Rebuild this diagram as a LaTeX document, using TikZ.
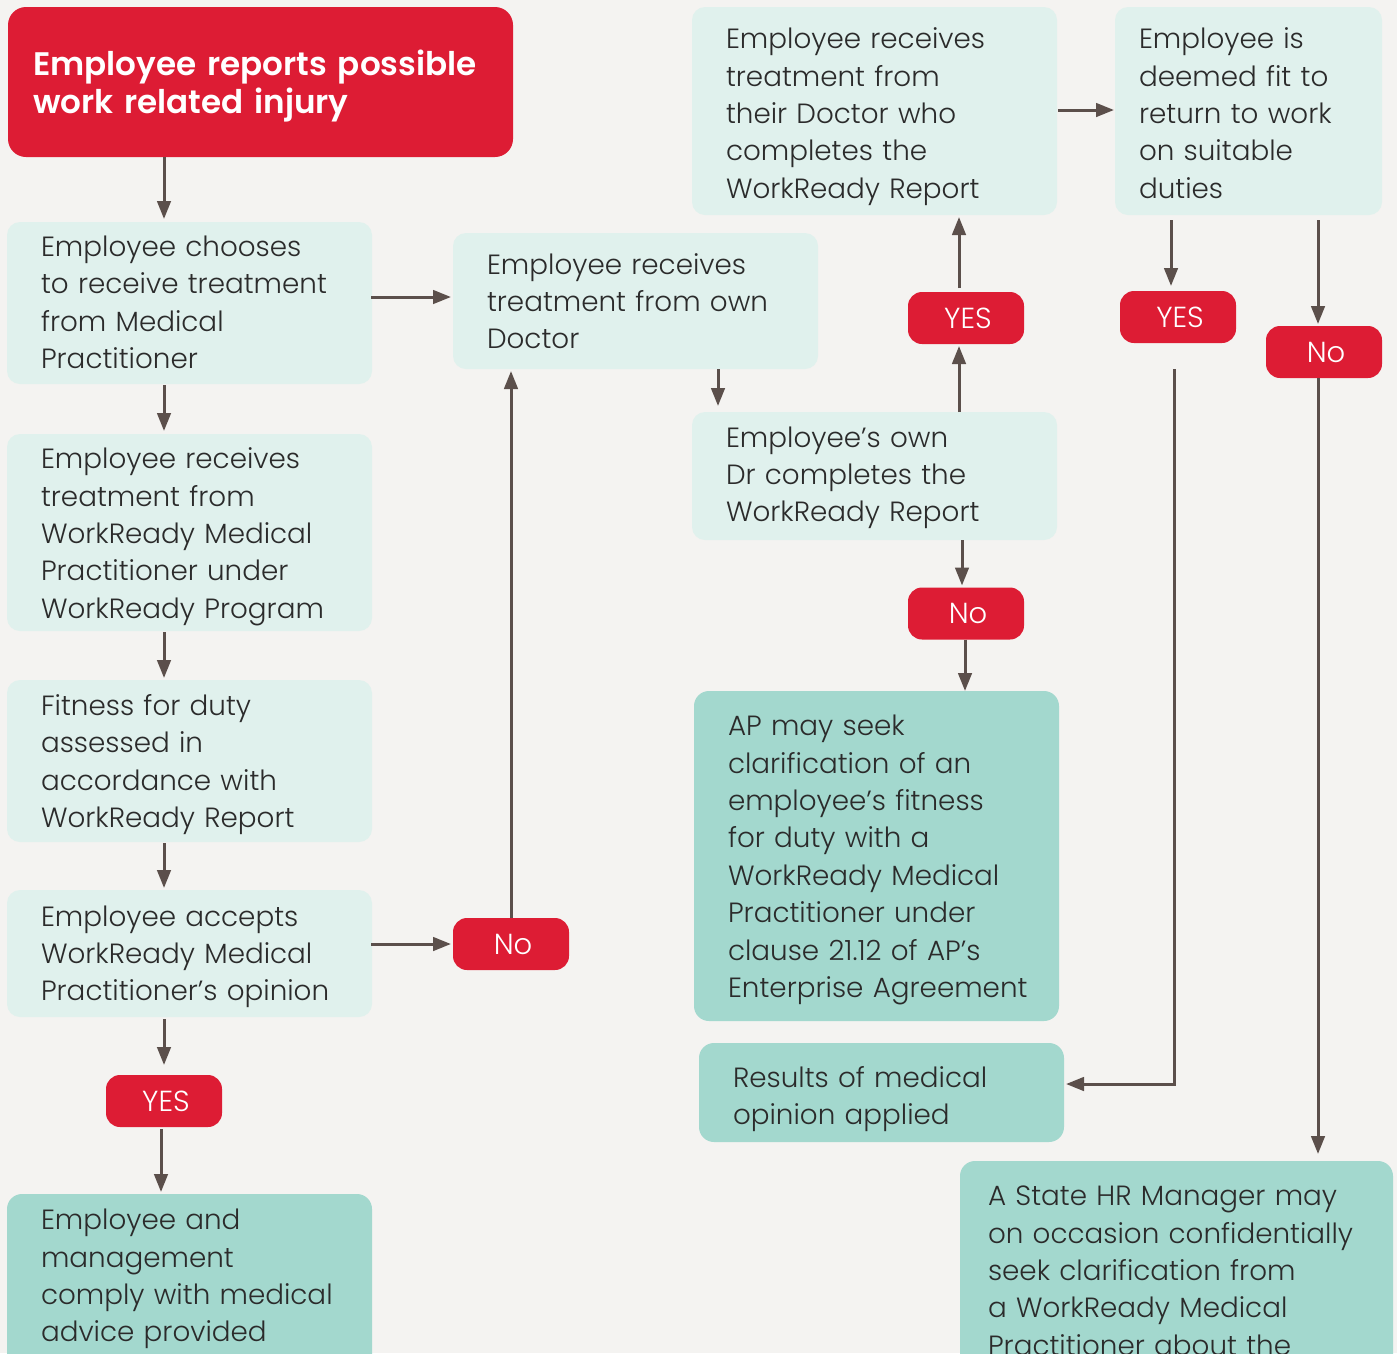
\documentclass[tikz,border=0pt]{standalone}
\usepackage{fontspec}
\setmainfont{Poppins}[UprightFont=* Light,BoldFont=* SemiBold]
\usetikzlibrary{arrows.meta}
\definecolor{bgc}{HTML}{F4F3F1}
\definecolor{redc}{HTML}{DD1C34}
\definecolor{lightc}{HTML}{E0F1ED}
\definecolor{tealc}{HTML}{A3D8CE}
\definecolor{textc}{HTML}{2B2B2B}
\definecolor{arrc}{HTML}{5B4F4B}
\tikzset{
  boxbase/.style={rectangle,outer sep=0pt,inner ysep=0pt,align=left,text=textc,
    font=\fontsize{27.8}{37.4}\selectfont},
  pale/.style={boxbase,fill=lightc,rounded corners=13pt},
  teal/.style={boxbase,fill=tealc,rounded corners=15pt},
  head/.style={boxbase,fill=redc,text=white,rounded corners=18pt,
    font=\fontsize{32.6}{38}\selectfont\bfseries},
  tag/.style={rectangle,outer sep=0pt,fill=redc,text=white,rounded corners=14pt,
    minimum width=116pt,minimum height=52pt,inner sep=0pt,align=center,
    font=\fontsize{29}{32}\selectfont},
  arr/.style={draw=arrc,line width=3pt,-{Triangle[length=18pt,width=13.5pt]}},
}
% name, style, x0, y0, x1, y1, left pad, top strut height, text
\newcommand\bx[9]{%
  \pgfmathsetlengthmacro{\bw}{(#5-#3)*1pt-2*#7*1pt}%
  \pgfmathsetlengthmacro{\bh}{(#6-#4)*1pt}%
  \node[#2,inner xsep=#7pt,text width=\bw,minimum height=\bh] (#1) at ({(#3+#5)/2},{(#4+#6)/2}) {\rule{0pt}{#8pt}#9\strut};}
\begin{document}
\begin{tikzpicture}[x=1pt,y=-1pt]
\clip (0,0) rectangle (1397,1353);
\fill[bgc] (0,0) rectangle (1397,1353);
\bx{r0}{head}{8}{7}{513}{157}{25}{36.6}{Employee reports possible\\work related injury}
\bx{a1}{pale}{7}{222}{372}{384}{34}{30.2}{Employee chooses\\to receive treatment\\from Medical\\Practitioner}
\bx{a2}{pale}{7}{434}{372}{631}{34}{33.2}{Employee receives\\treatment from\\WorkReady Medical\\Practitioner under\\WorkReady Program}
\bx{a3}{pale}{7}{680}{372}{842}{34}{32.2}{Fitness for duty\\assessed in\\accordance with\\WorkReady Report}
\bx{a4}{pale}{7}{890}{372}{1017}{34}{31.2}{Employee accepts\\WorkReady Medical\\Practitioner’s opinion}
\bx{a5}{teal}{7}{1194}{372}{1394}{34}{32.2}{Employee and\\management\\comply with medical\\advice provided\\}
\bx{b}{pale}{453}{233}{818}{369}{34}{32.2}{Employee receives\\treatment from own\\Doctor}
\bx{c1}{pale}{692}{7}{1057}{215}{34}{36.2}{Employee receives\\treatment from\\their Doctor who\\completes the\\WorkReady Report}
\bx{d1}{pale}{1115}{7}{1382}{215}{24}{36.2}{Employee is\\deemed fit to\\return to work\\on suitable\\duties}
\bx{c2}{pale}{692}{412}{1057}{540}{34}{28.2}{Employee’s own\\Dr completes the\\WorkReady Report}
\bx{c3}{teal}{694}{691}{1059}{1021}{34}{32.2}{AP may seek\\clarification of an\\employee’s fitness\\for duty with a\\WorkReady Medical\\Practitioner under\\clause 21.12 of AP’s\\\mbox{Enterprise Agreement}}
\bx{c4}{teal}{699}{1043}{1064}{1142}{34}{38.2}{Results of medical\\opinion applied}
\bx{e}{teal}{960}{1161}{1393}{1379}{28}{32.2}{A State HR Manager may\\on occasion confidentially\\seek clarification from\\a WorkReady Medical\\Practitioner about the}
\node[tag] (yesA) at (164,1101) {\hspace{4pt}YES};
\node[tag] (noL) at (511,944) {\hspace{4pt}No};
\node[tag] (yesC) at (966,318) {\hspace{4pt}YES};
\node[tag] (noC) at (966,613.5) {\hspace{4pt}No};
\node[tag] (yesD) at (1178,317) {\hspace{4pt}YES};
\node[tag] (noD) at (1324,352) {\hspace{4pt}No};
\coordinate (k) at (1174,1084);
\foreach \n/\v in {p/164,q/161,s/511,t/718,u/959,v/962,w/965,m/1171,n/1318,o/1174}{\coordinate (x\n) at (\v,0);}
\foreach \n/\v in {h/297,i/944,j/110}{\coordinate (y\n) at (0,\v);}
\draw[arr,shorten >=3pt] (r0.south -| xp) -- (a1.north -| xp);
\draw[arr,shorten <=1pt,shorten >=3pt] (a1.south -| xp) -- (a2.north -| xp);
\draw[arr,shorten <=1pt,shorten >=2pt] (a2.south -| xp) -- (a3.north -| xp);
\draw[arr,shorten <=1pt,shorten >=2pt] (a3.south -| xp) -- (a4.north -| xp);
\draw[arr,shorten <=2pt,shorten >=10pt] (a4.south -| xp) -- (yesA.north -| xp);
\draw[arr,shorten <=2pt,shorten >=2pt] (yesA.south -| xq) -- (a5.north -| xq);
\draw[arr,shorten <=-1pt,shorten >=2pt] (a1.east |- yh) -- (b.west |- yh);
\draw[arr,shorten <=-1pt,shorten >=2pt] (a4.east |- yi) -- (noL.west |- yi);
\draw[arr,shorten >=2pt] (noL.north -| xs) -- (b.south -| xs);
\draw[arr,shorten >=6pt] (b.south -| xt) -- (c2.north -| xt);
\draw[arr,shorten >=2pt] (c2.north -| xu) -- (yesC.south -| xu);
\draw[arr,shorten <=4pt,shorten >=2pt] (yesC.north -| xu) -- (c1.south -| xu);
\draw[arr,shorten <=1pt,shorten >=1pt] (c1.east |- yj) -- (d1.west |- yj);
\draw[arr,shorten <=5pt,shorten >=5pt] (d1.south -| xm) -- (yesD.north -| xm);
\draw[arr,shorten <=5pt,shorten >=2pt] (d1.south -| xn) -- (noD.north -| xn);
\draw[arr,shorten <=26pt,shorten >=2pt] (yesD.south -| xo) -- (k) -- (c4.east |- k);
\draw[arr,shorten >=7pt] (noD.south -| xn) -- (e.north -| xn);
\draw[arr,shorten >=2pt] (c2.south -| xv) -- (noC.north -| xv);
\draw[arr] (noC.south -| xw) -- (c3.north -| xw);
\end{tikzpicture}
\end{document}
